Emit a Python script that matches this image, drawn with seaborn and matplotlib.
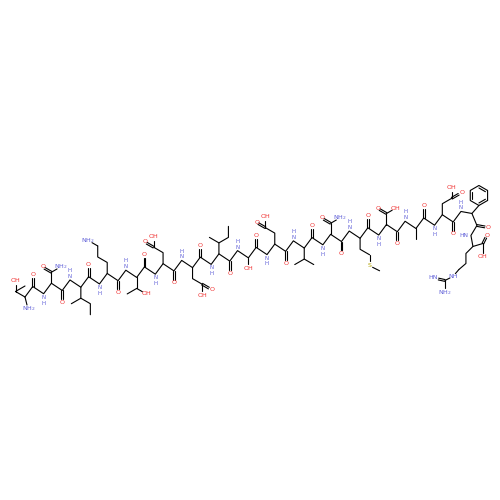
import numpy as np
import matplotlib
matplotlib.use("Agg")
import matplotlib.pyplot as plt
import seaborn as sns

# peptide sequence and side-chain descriptions
residues = ["Thr","Asn","Ile","Lys","Thr","Glu","Glu","Ile","Ser","Glu",
            "Val","Asn","Met","Asp","Ala","Glu","Phe","Arg"]
side_bonds = [2, 2, 3, 4, 2, 3, 3, 3, 1, 3, 2, 2, 3, 2, 1, 3, 1, 4]
side_label = ["OH", "NH2", "", "NH2", "OH", "OH", "OH", "", "OH", "OH",
              "", "NH2", "S", "OH", "", "OH", "", "NH"]
side_oxo = [False, True, False, False, False, True, True, False, False, True,
            False, True, False, True, False, True, False, False]
side_dir = [-1, -1, 1, -1, 1, -1, 1, -1, 1, -1, 1, -1, 1, -1, 1, -1, -1, 1]
side_drift = [-1, 1, 1, -1, 1, -1, 1, 1, 1, -1, 1, 1, 1, 1, 1, 1, 1, -1]

sns.set_theme(style="white")
plt.rcParams['font.family'] = ['DejaVu Sans']
fig = plt.figure(figsize=(5, 5), dpi=100)
ax = fig.add_axes([0, 0, 1, 1])
ax.set_xlim(0, 500); ax.set_ylim(500, 0); ax.axis("off")

NC = "#6060d8"
OC = "#f03030"
SC = "#b0a000"
nat = len(residues) * 3
step = 9.45
th = np.arctan2(-75, 428)
d = np.array([np.cos(th), np.sin(th)])
perp = np.array([-d[1], d[0]])
h = -4.5
start = np.array([25.0, 297.0]) - step * d + h * perp
sg = [(-1) ** k for k in range(nat)]
pts = np.array([start + k * step * d + sg[k] * h * perp for k in range(nat)])
# the chain bends downward at the C-terminal end (Phe, Arg)
pts[49] = pts[48] + np.array([11, 2])
pts[50] = pts[49] + np.array([5, 12])
pts[51] = pts[50] + np.array([-6, 10])
pts[52] = pts[51] + np.array([2, 11])
pts[53] = pts[52] + np.array([10, -3])
kw = dict(color="black", lw=0.8)
fs = 4.5
ax.plot(pts[1:, 0], pts[1:, 1], **kw)

def lab(x, y, t, c, f=fs):
    ax.text(x, y, t, fontsize=f, ha="center", va="center", color=c)

def dbl(p, q, frac=0.72):
    v = q - p
    nrm = np.array([-v[1], v[0]]) / np.hypot(*v) * 0.9
    for sgn in (-1, 1):
        a = p + sgn * nrm
        ax.plot([a[0], a[0] + v[0] * frac], [a[1], a[1] + v[1] * frac], **kw)

for i, res in enumerate(residues):
    n, ca, c = 3 * i, 3 * i + 1, 3 * i + 2
    vN = 1 if sg[n] * h > 0 else -1
    vC = 1 if sg[c] * h > 0 else -1
    vA = -vC
    s = side_dir[i]
    dr = side_drift[i]
    if i == 0:
        ax.plot([pts[ca, 0], pts[ca, 0] + 2], [pts[ca, 1], pts[ca, 1] + 8], **kw)
        lab(pts[ca, 0] + 4, pts[ca, 1] + 12, "NH$_2$", NC)
    elif res == "Arg":
        lab(pts[n, 0] - 7, pts[n, 1], "HN", NC, 4.2)
    else:
        lab(pts[n, 0], pts[n, 1] + vN * 6.5, "N\nH" if vN > 0 else "H\nN", NC, 4.0)
    # carbonyl O
    if res == "Phe":
        o = pts[c] + np.array([11, 2])
    elif res == "Arg":
        o = pts[c] + np.array([4, -8])
    else:
        o = pts[c] + np.array([0, vC * 12])
    dbl(pts[c], o)
    lab(o[0], o[1], "O", OC)
    if res == "Arg":
        e = pts[c] + np.array([0, 13])
        ax.plot([pts[c, 0], e[0]], [pts[c, 1], e[1] - 3], **kw)
        lab(e[0], e[1], "OH", OC)
        bonds = [(-7, 7), (0, 10), (-7, 6), (-6, 7)]
    elif res == "Phe":
        bonds = [(7, -8)]
    else:
        bonds = []
        vert_first = (s == vA)
        for b in range(side_bonds[i]):
            vert = (b % 2 == 0) == vert_first
            bonds.append((0, s * 11.0) if vert else (dr * 9.5, s * 5.5))
    p = pts[ca].copy()
    chain = [p.copy()]
    for v in bonds:
        p = p + np.array(v)
        chain.append(p.copy())
    chain = np.array(chain)
    t = side_label[i]
    if t:
        ax.plot(chain[:-1, 0], chain[:-1, 1], **kw)
        a, b2 = chain[-2], chain[-1]
        ax.plot([a[0], a[0] + (b2[0] - a[0]) * 0.6], [a[1], a[1] + (b2[1] - a[1]) * 0.6], **kw)
        col = OC if t == "OH" else (SC if t == "S" else NC)
        lab(b2[0], b2[1], t.replace("NH2", "NH$_2$"), col)
    else:
        ax.plot(chain[:, 0], chain[:, 1], **kw)
    if side_oxo[i]:
        q = chain[-2]
        last_v = chain[-1] - chain[-2]
        if abs(last_v[0]) < 1:
            ov = np.array([dr * 9.5, s * 5.5])
        else:
            ov = np.array([-last_v[0], last_v[1]])
        oo = q + ov
        dbl(q, oo)
        lab(oo[0] + 1, oo[1], "O", OC)
    if res == "Met":
        e = chain[-1]
        ax.plot([e[0] + 3, e[0] + 10], [e[1] + 1.5, e[1] + 5], **kw)
    if res in ("Ile", "Val", "Thr"):
        b0 = chain[1]
        ax.plot([b0[0], b0[0] - dr * 9.5], [b0[1], b0[1] + s * 5.5], **kw)
    if res == "Phe":
        e = chain[-1]
        cen = e + np.array([0, -10])
        ang = np.deg2rad(np.arange(0, 361, 60) + 30)
        ax.plot(cen[0] + 10 * np.cos(ang), cen[1] + 10 * np.sin(ang), **kw)
        for j in (0, 2, 4):
            ax.plot(cen[0] + 7.5 * np.cos(ang[j:j + 2]), cen[1] + 7.5 * np.sin(ang[j:j + 2]), **kw)
    if res == "Arg":
        e = chain[-1]
        g = e + np.array([-8, 4])
        ax.plot([e[0] - 3, g[0]], [e[1] + 1.5, g[1]], **kw)
        dbl(g, g + np.array([-9, -2]))
        ax.plot([g[0], g[0]], [g[1], g[1] + 8], **kw)
        lab(g[0] - 12, g[1] - 2.5, "HN", NC)
        lab(g[0], g[1] + 12, "NH$_2$", NC)

fig.savefig("out.png", dpi=100, facecolor="white")
